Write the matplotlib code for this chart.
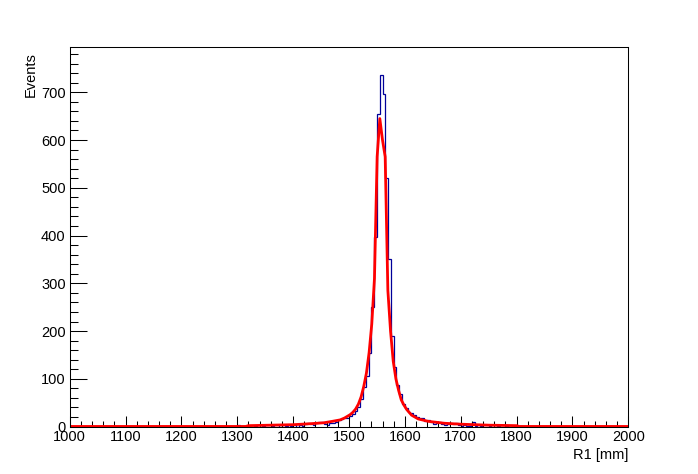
import numpy as np
import matplotlib
matplotlib.use("Agg")
import matplotlib.pyplot as plt
from matplotlib.ticker import MultipleLocator

# ---- data ----
x_range = (1000, 2000)
bin_width = 5
y_max = 794

# histogram: left edges of non-empty bins and their counts
bin_left = [1300, 1330, 1345, 1360, 1375, 1385, 1395, 1400, 1410, 1415,
            1420, 1425, 1430, 1435, 1440, 1445, 1450, 1455, 1460, 1465,
            1470, 1475, 1480, 1485, 1490, 1495, 1500, 1505, 1510, 1515,
            1520, 1525, 1530, 1535, 1540, 1545, 1550, 1555, 1560, 1565,
            1570, 1575, 1580, 1585, 1590, 1595, 1600, 1605, 1610, 1615,
            1620, 1625, 1630, 1635, 1640, 1645, 1650, 1655, 1660, 1665,
            1670, 1675, 1680, 1685, 1690, 1695, 1700, 1705, 1710, 1715,
            1720, 1725, 1735, 1750, 1765, 1780, 1805]
counts = [3, 1, 2, 1, 3, 2, 2, 4, 3, 2,
          6, 8, 5, 3, 7, 9, 9, 5, 4, 8,
          8, 10, 13, 15, 19, 17, 22, 26, 33, 42,
          58, 82, 105, 155, 250, 398, 655, 736, 696, 521,
          351, 190, 125, 88, 68, 48, 38, 30, 28, 24,
          20, 19, 17, 12, 14, 9, 6, 8, 9, 5,
          4, 5, 7, 6, 7, 3, 2, 3, 2, 1,
          9, 2, 1, 2, 1, 1, 2]

# fit curve vertices
fit_x = [1000, 1315, 1320, 1360, 1400, 1430, 1455, 1470, 1484, 1492,
         1502, 1507, 1512, 1516.8, 1521.6, 1526.4, 1531.2, 1536, 1540.8, 1545.6,
         1550.4, 1555.2, 1560, 1564.8, 1569.6, 1574.4, 1579.2, 1584, 1588.8, 1593.6,
         1598.4, 1603.2, 1612, 1624, 1642, 1671, 1701, 1750, 1800, 1805, 2000]
fit_y = [0.3, 0.3, 2, 3, 4, 6, 8, 11, 14, 18,
         25, 30, 37, 47, 62, 84, 112, 155, 215, 310,
         565, 645, 600, 565, 285, 200, 137, 100, 76, 56,
         45, 36, 24, 16, 11, 7, 5, 3, 2, 0.3, 0.3]

x_label = "R1 [mm]"
y_label = "Events"

# ---- figure ----
plt.rcParams['font.family'] = ['Liberation Sans', 'DejaVu Sans']
fig = plt.figure(figsize=(6.98, 4.74), dpi=100)
ax = fig.add_axes([0.1, 0.1, 0.8, 0.8])

edges = np.arange(x_range[0], x_range[1] + bin_width, bin_width)
hist = np.zeros(len(edges) - 1)
for lo, c in zip(bin_left, counts):
    hist[int(round((lo - x_range[0]) / bin_width))] = c

ax.stairs(hist, edges, color='#000099', linewidth=0.9)
ax.plot(fit_x, fit_y, color='#ff0000', linewidth=2.0)

ax.set_xlim(*x_range)
ax.set_ylim(0, y_max)

ax.xaxis.set_major_locator(MultipleLocator(100))
ax.xaxis.set_minor_locator(MultipleLocator(20))
ax.yaxis.set_major_locator(MultipleLocator(100))
ax.yaxis.set_minor_locator(MultipleLocator(20))

fs = 10.5
ax.tick_params(axis='x', which='major', direction='in', length=7.7, width=0.75,
               labelsize=fs, pad=2.5, top=False)
ax.tick_params(axis='x', which='minor', direction='in', length=4.1, width=0.75, top=False)
ax.tick_params(axis='y', which='major', direction='in', length=12, width=0.75,
               labelsize=fs, pad=3, right=False)
ax.tick_params(axis='y', which='minor', direction='in', length=6, width=0.75, right=False)

for s in ax.spines.values():
    s.set_linewidth(0.75)
    s.set_color('black')

fig.text(628 / 698, 1 - 459 / 474, x_label, ha='right', va='baseline', fontsize=fs)
fig.text(24 / 698, 1 - 52 / 474, y_label, ha='right', va='top', rotation=90,
         fontsize=fs, rotation_mode='anchor')

fig.savefig("out.png", dpi=100)
